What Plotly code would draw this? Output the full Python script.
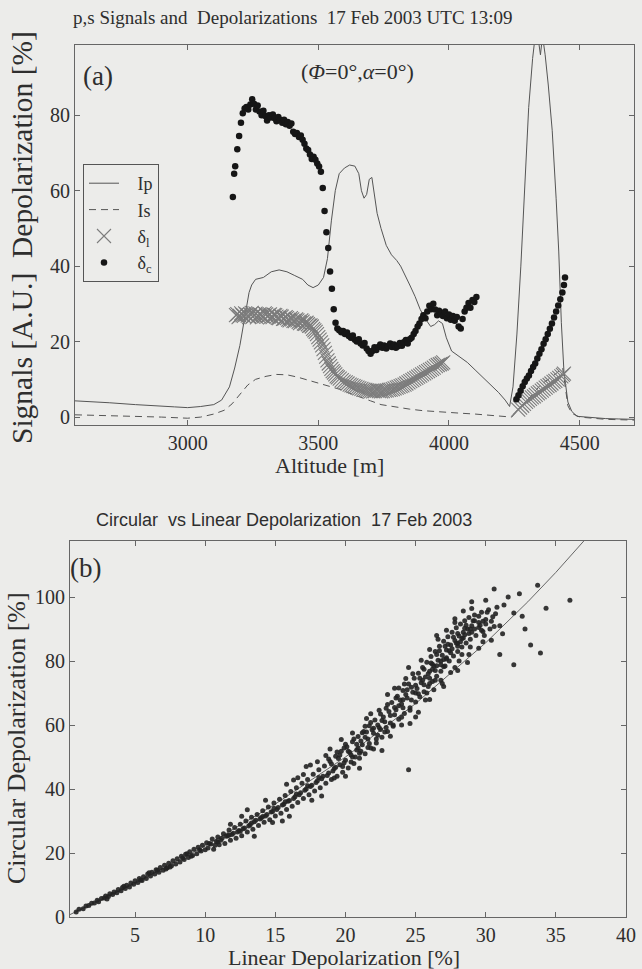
import plotly.graph_objects as go

# ---------------- Panel (a) data ----------------
ALT_IP = [2569, 2600, 2700, 2800, 2900, 2950, 3000, 3050, 3100, 3130, 3160, 3180, 3200, 3220,
          3235, 3245, 3260, 3290, 3320, 3350, 3380, 3410, 3440, 3460, 3480, 3500, 3520, 3535,
          3550, 3565, 3580, 3600, 3620, 3640, 3655, 3665, 3675, 3685, 3695, 3705, 3715, 3725,
          3740, 3760, 3780, 3800, 3815, 3830, 3850, 3870, 3890, 3910, 3930, 3945, 3960, 3975,
          3990, 4010, 4040, 4070, 4100, 4130, 4160, 4190, 4215, 4232, 4245, 4260, 4275, 4290,
          4305, 4320, 4330, 4340, 4350, 4358, 4368, 4380, 4395, 4410, 4420, 4430, 4440, 4455,
          4470, 4490, 4550, 4600, 4650, 4708]
IP = [4.3, 4.2, 3.8, 3.3, 3.0, 2.7, 2.5, 2.8, 3.3, 4.5, 8, 13, 19, 27,
      33, 35, 36.5, 37, 38.5, 39, 38.5, 37.5, 36.5, 35, 34.3, 35, 37, 42,
      52, 60, 64.5, 66, 66.8, 66.5, 64.5, 60, 58, 59, 63, 63.5, 59, 54,
      50, 45.5, 43, 41.5, 40, 38, 35, 32, 28.5, 26, 24, 24.5, 25.5, 24.8,
      21, 17.5, 16, 14.5, 12.5, 10.5, 8.5, 6.5, 4.5, 2.8, 8, 22, 40, 62,
      82, 95, 101, 101, 96, 101, 96, 88, 76, 58, 44, 25, 12, 4,
      1.5, 0.2, -0.2, -0.4, -0.5, -0.6]

ALT_IS = [2569, 2700, 2800, 2900, 3000, 3050, 3100, 3140, 3170, 3200, 3230, 3260, 3300, 3340,
          3380, 3420, 3460, 3500, 3540, 3580, 3620, 3660, 3700, 3740, 3800, 3850, 3900, 3950,
          4000, 4050, 4100, 4150, 4200, 4240, 4300, 4350, 4400, 4435, 4445, 4455, 4470, 4500,
          4600, 4708]
IS = [0.6, 0.4, 0.2, 0.0, -0.3, 0.0, 0.8, 1.8, 3.5, 6, 8.5, 10, 10.8, 11.3,
      11.2, 10.6, 9.8, 9.0, 8.2, 7.4, 6.3, 5.2, 4.3, 3.3, 2.6, 2.1, 1.7, 1.4,
      1.2, 1.0, 0.8, 0.5, 0.3, 0.0, 4.5, 8.5, 11, 13, 8, 3, 1, 0,
      -0.6, -0.8]

ALT_DL = [3185, 3195, 3205, 3215, 3225, 3235, 3245, 3255, 3265, 3275, 3285, 3295, 3305, 3315,
          3325, 3335, 3345, 3355, 3365, 3375, 3385, 3395, 3405, 3415, 3425, 3435, 3445, 3455,
          3465, 3475, 3485, 3495, 3505, 3515, 3525, 3535, 3545, 3555, 3565, 3575, 3590, 3605,
          3620, 3635, 3650, 3665, 3680, 3695, 3710, 3725, 3740, 3755, 3770, 3785, 3800, 3815,
          3830, 3845, 3860, 3875, 3890, 3905, 3920, 3935, 3950, 3965, 3978,
          4265, 4280, 4295, 4310, 4325, 4340, 4355, 4370, 4385, 4400, 4415, 4430, 4440,
          3190, 3200, 3210, 3220, 3230, 3240, 3250, 3260, 3270, 3280, 3290, 3300, 3310, 3320,
          3330, 3340, 3350, 3360, 3370, 3380, 3390, 3400, 3410, 3420, 3430, 3440, 3450, 3460,
          3470, 3480, 3490, 3500, 3510, 3520, 3530, 3540, 3550, 3560, 3570, 3582, 3597, 3612,
          3627, 3642, 3657, 3672, 3687, 3702, 3717, 3732, 3747, 3762, 3777, 3792, 3807, 3822,
          3837, 3852, 3867, 3882, 3897, 3912, 3927, 3942, 3957, 3972,
          4272, 4287, 4302, 4317, 4332, 4347, 4362, 4377, 4392, 4407, 4422, 4436]
DL = [27, 26.5, 27.5, 26.8, 27.2, 26.5, 27.6, 27, 26.4, 27.3, 26.8, 27.5, 26.7, 27.2,
      26.5, 27, 26.3, 26.8, 26, 26.5, 25.8, 26.2, 25.5, 25.9, 25.2, 25.6, 24.8, 25,
      24.2, 24, 23, 22, 20.5, 19, 17, 15, 13.5, 12.2, 11.3, 10.5, 9.8, 9.2,
      8.6, 8.2, 7.8, 7.5, 7.2, 7, 6.8, 7, 6.8, 7, 7.2, 7.4, 7.8, 8.2,
      8.6, 9.2, 9.8, 10.4, 11, 11.6, 12.2, 12.8, 13.5, 14, 14.5,
      2, 3, 4, 4.8, 5.5, 6.3, 7, 7.8, 8.5, 9.3, 10, 10.8, 11.5,
      27.3, 26.8, 27, 27.5, 26.9, 27.2, 26.6, 27.4, 26.9, 27.1, 26.6, 27.2, 27, 26.6,
      27.1, 26.6, 26.2, 26.6, 26.1, 26.2, 25.6, 25.9, 25.4, 25.6, 24.9, 25.3, 24.7, 24.6,
      24.3, 23.4, 22.6, 21.2, 19.8, 18.0, 16.0, 14.2, 12.8, 11.8, 10.8, 10.2, 9.4, 8.9,
      8.4, 8.0, 7.6, 7.3, 7.1, 6.9, 6.9, 6.9, 6.9, 7.1, 7.3, 7.6, 8.0, 8.4,
      8.9, 9.5, 10.1, 10.7, 11.3, 11.9, 12.5, 13.1, 13.8, 14.2,
      2.5, 3.5, 4.4, 5.2, 5.9, 6.6, 7.4, 8.2, 8.9, 9.6, 10.4, 11.2]

ALT_DC = [3173, 3178, 3182, 3190, 3197, 3204, 3211, 3218, 3225, 3232, 3240, 3247, 3254, 3261,
          3268, 3275, 3283, 3290, 3297, 3304, 3311, 3318, 3326, 3333, 3340, 3347, 3354, 3362,
          3369, 3376, 3383, 3390, 3397, 3404, 3411, 3418, 3426, 3433, 3440, 3447, 3454, 3461,
          3468, 3475, 3482, 3489, 3496, 3503, 3510, 3517, 3524, 3531, 3538, 3545, 3552, 3559,
          3566, 3573, 3580, 3588, 3595, 3602, 3610, 3617, 3625, 3632, 3640, 3647, 3655, 3662,
          3670, 3677, 3685, 3692, 3700, 3707, 3715, 3722, 3730, 3737, 3745, 3752, 3760, 3767,
          3775, 3782, 3790, 3797, 3805, 3812, 3820, 3827, 3835, 3842, 3850, 3857, 3865, 3872,
          3880, 3887, 3895, 3902, 3910, 3917, 3925, 3932, 3940, 3947, 3955, 3962, 3970, 3977,
          3985, 3992, 4000, 4007, 4015, 4022, 4030, 4037, 4045, 4052, 4060, 4067, 4075, 4082,
          4090, 4097, 4105,
          4258, 4266, 4274, 4282, 4290, 4298, 4306, 4314, 4322, 4330, 4338, 4346, 4354, 4362,
          4370, 4378, 4386, 4394, 4402, 4410, 4418, 4426, 4434, 4440, 4444]
DC = [58.3, 64.5, 66.5, 71, 74.5, 78, 80.5, 81.8, 82.2, 81.5, 82.8, 84.2, 83, 81.5,
      82.6, 81, 80, 81.2, 79.8, 78.6, 80, 79.4, 80.2, 79.2, 78.4, 79.5, 78.8, 78,
      78.8, 77.6, 78.2, 77.2, 77.8, 75.6, 75, 75.3, 74.2, 74.6, 73.5, 72.4, 71.2, 70.8,
      69.6, 68.4, 69, 68.2, 67.2, 66.4, 65, 60.7, 54.6, 49, 44.8, 38.6, 34, 28.6,
      25, 23.5, 23, 22.5, 22.8, 22, 22.4, 21.5, 21, 21.6, 20.5, 20, 20.6, 19.5,
      19, 19.6, 18.2, 17.5, 16.8, 17.5, 18.5, 17.8, 18.6, 19.2, 18.4, 19, 18.2, 18.8,
      19.5, 18.6, 19.2, 18.4, 18.8, 19.6, 18.9, 19.8, 20.4, 19.5, 20.6, 21, 22, 22.8,
      24, 24.8, 26, 27, 26.2, 28, 29.5, 28.6, 30, 28.5, 27, 28.2, 27.4, 26.8,
      28, 26.2, 27.2, 25.8, 26.8, 25.5, 26.5, 24, 23.5, 26, 28, 29, 30.2, 29,
      31, 30.5, 31.8,
      4.7, 5.8, 7.0, 8.2, 9.3, 10.2, 11.0, 12.2, 13.3, 14.2, 15.5, 16.8, 18.0, 19.4,
      20.6, 22.0, 23.4, 24.8, 26.4, 28.0, 29.6, 31.2, 33.0, 35.0, 37.0]

# ---------------- Panel (b) data ----------------
LIN_DEP = [
    0.8, 1.0, 1.3, 1.5, 1.7, 1.9, 2.1, 2.3, 2.4, 2.6, 2.8, 2.9, 3.1, 3.2, 3.4, 3.5, 3.7, 3.8, 4.0, 4.1,
    4.3, 4.4, 4.6, 4.7, 4.9, 5.0, 5.2, 5.3, 5.5, 5.6, 5.8, 5.9, 6.1, 6.2, 6.4, 6.5, 6.7, 6.8, 7.0, 7.1,
    7.3, 7.4, 7.6, 7.7, 7.9, 8.0, 8.2, 8.3, 8.5, 8.6, 8.8, 8.9, 9.1, 9.2, 9.4, 9.5, 9.7, 9.8, 10.0, 10.1,
    3.0, 4.2, 5.4, 6.6, 7.5, 8.4, 9.0, 9.6, 6.0, 7.2, 8.7,
    10.2, 10.4, 10.5, 10.6, 10.8, 10.9, 11.0, 11.2, 11.3, 11.4, 11.6, 11.7, 11.8, 12.0, 12.1, 12.2,
    12.4, 12.5, 12.6, 12.8, 12.9, 13.0, 13.2, 13.3, 13.4, 13.6, 13.7, 13.8, 14.0, 14.1, 14.2, 14.4,
    14.5, 14.6, 14.8, 14.9, 15.0, 15.2, 15.3, 15.4, 15.6, 15.7, 15.8, 16.0, 16.1, 16.2, 16.4, 16.5,
    16.6, 16.8, 16.9, 17.0, 17.2, 17.3, 17.4, 17.6, 17.7, 17.8, 18.0, 18.1, 18.2, 18.4,
    12.6, 14.3, 15.5, 16.3, 17.5, 18.3, 13.5, 17.0,
    18.5, 18.6, 18.8, 18.9, 19.0, 19.2, 19.3, 19.4, 19.6, 19.7, 19.8, 20.0, 20.1, 20.2, 20.4, 20.5,
    20.6, 20.8, 20.9, 21.0, 21.2, 21.3, 21.4, 21.6, 21.7, 21.8, 22.0, 22.1, 22.2, 22.4, 22.5, 22.6,
    22.8, 22.9, 23.0, 23.2, 23.3, 23.4, 23.6, 23.7, 23.8, 24.0, 24.1, 24.2, 24.4, 24.5, 24.6, 24.8,
    24.9, 25.0,
    19.5, 20.3, 21.1, 21.9, 22.7, 23.5, 24.3, 20.7, 22.3, 23.9, 21.5, 23.1, 24.7, 19.1, 20.9, 22.5, 24.1,
    18.9, 20.0, 21.5, 22.6, 23.5, 24.5, 24.0, 19.7, 25.0, 21.0,
    25.1, 25.2, 25.3, 25.4, 25.5, 25.6, 25.7, 25.8, 25.9, 26.0, 26.1, 26.2, 26.3, 26.4, 26.5, 26.6,
    26.7, 26.8, 26.9, 27.0, 27.1, 27.2, 27.3, 27.4, 27.5, 27.6, 27.7, 27.8, 27.9, 28.0, 28.1, 28.2,
    28.3, 28.4, 28.5, 28.6, 28.7, 28.8, 28.9, 29.0, 29.2, 29.3, 29.5, 29.7, 29.8, 30.0, 30.2, 30.3,
    30.5, 30.8, 31.0,
    25.5, 26.0, 26.5, 27.0, 27.5, 28.0, 28.5, 29.0, 29.5, 26.2, 27.2, 28.2, 25.8, 26.8, 27.8, 28.8, 29.8,
    25.2, 26.0, 27.0, 28.0, 28.7, 29.5, 30.4, 31.2, 30.0, 29.0, 31.3, 32.0, 32.4, 31.6, 33.7, 36.0,
    33.9, 32.0, 32.8, 33.2, 31.0, 24.5, 26.5, 27.8, 30.6, 34.3, 32.6,
    10.3, 10.7, 11.1, 11.5, 11.9, 12.3, 12.7, 13.1, 13.5, 13.9, 14.3, 14.7, 15.1, 15.5, 15.9, 16.3,
    16.7, 17.1, 17.5, 17.9, 18.3, 10.9, 11.7, 12.5, 13.3, 14.1, 14.9, 15.7, 16.5, 17.3, 18.1,
    15.8, 16.6, 17.2, 18.0, 16.0, 14.8, 13.0, 11.8, 18.6, 17.6,
    18.7, 19.0, 19.3, 19.6, 19.9, 20.2, 20.5, 20.8, 21.1, 21.4, 21.7, 22.0, 22.3, 22.6, 22.9, 23.2,
    23.5, 23.8, 24.1, 24.4, 24.7, 25.0,
    18.8, 19.4, 20.0, 20.6, 21.2, 21.8, 22.4, 23.0, 23.6, 24.2, 24.8,
    19.2, 19.8, 20.4, 21.0, 21.6, 22.2, 22.8, 23.4, 24.0, 24.6,
    20.5, 21.8, 23.0, 24.3, 22.0, 23.2, 24.6, 19.9, 21.4, 23.8,
    25.3, 25.6, 25.9, 26.2, 26.5, 26.8, 27.1, 27.4, 27.7, 28.0, 28.3, 28.6, 28.9, 29.2, 29.5, 29.8,
    30.1, 30.4, 30.7,
    25.2, 25.6, 26.0, 26.4, 26.8, 27.2, 27.6, 28.0, 28.4, 28.8, 29.2, 29.6, 30.0,
    25.4, 26.0, 26.6, 27.2, 27.8, 28.4, 29.0,
    25.0, 25.7, 26.3, 26.9, 27.5, 28.1, 28.9, 29.9, 30.6,
    26.1, 26.7, 27.3, 27.9, 28.5, 29.1, 29.7, 27.0, 28.3, 26.4]
CIRC_DEP = [
    1.6, 2.4, 2.6, 3.4, 3.6, 4.3, 4.4, 5.2, 4.8, 5.8, 5.9, 6.6, 6.4, 7.3, 7.0, 7.8, 7.6, 8.6, 8.2, 9.2,
    8.9, 9.9, 9.4, 10.6, 10.2, 11.3, 10.8, 12.0, 11.4, 12.6, 12.0, 13.4, 12.8, 14.0, 13.4, 14.8, 14.0, 15.5, 14.6, 16.2,
    15.4, 16.8, 16.0, 17.6, 16.6, 18.2, 17.2, 19.0, 18.0, 19.6, 18.6, 20.4, 19.2, 21.2, 19.8, 21.8, 20.6, 22.4, 21.0, 23.2,
    5.6, 9.6, 11.6, 14.6, 15.6, 18.4, 19.0, 21.0, 13.8, 15.0, 19.8,
    21.6, 22.8, 24.4, 21.2, 23.6, 25.0, 22.6, 24.6, 26.0, 23.0, 25.4, 27.2, 24.0, 26.2, 28.0, 24.6,
    27.0, 29.0, 25.4, 27.8, 30.0, 26.6, 28.8, 31.2, 27.4, 30.2, 32.0, 28.6, 31.0, 33.2, 29.6, 32.0,
    34.4, 30.4, 33.0, 35.6, 31.6, 34.2, 36.8, 32.4, 35.2, 38.0, 33.6, 36.4, 39.2, 34.6, 37.6, 40.4,
    35.8, 38.8, 41.8, 37.0, 40.0, 43.0, 38.2, 41.2, 44.6, 39.4, 42.6, 46.0, 40.4, 44.0,
    31.5, 36.5, 30.0, 42.8, 47.5, 37.8, 25.2, 44.5,
    47.2, 41.8, 45.0, 48.6, 43.0, 46.4, 50.2, 44.0, 47.6, 51.8, 45.2, 49.0, 53.2, 46.6, 50.6, 54.8,
    48.0, 52.2, 56.4, 49.6, 53.8, 58.0, 51.0, 55.6, 59.8, 52.8, 57.4, 61.6, 54.4, 59.2, 63.4, 56.2,
    61.0, 65.2, 58.0, 63.0, 67.0, 60.0, 64.8, 69.0, 61.8, 66.6, 70.8, 63.6, 68.4, 72.8, 65.4, 70.2,
    74.6, 67.2,
    49.5, 51.5, 55.0, 58.5, 62.5, 65.5, 69.5, 50.0, 60.0, 67.8, 57.8, 64.2, 71.8, 45.6, 52.8, 58.6, 67.9,
    52.5, 44.0, 62.0, 52.0, 71.5, 46.0, 60.0, 55.5, 62.5, 46.5,
    71.4, 76.2, 68.8, 73.2, 78.0, 70.4, 75.0, 79.6, 72.0, 76.8, 81.4, 73.6, 78.4, 83.0, 75.2, 80.2,
    84.6, 76.8, 81.8, 86.2, 78.4, 83.4, 87.6, 80.0, 85.0, 89.0, 81.6, 86.4, 90.4, 83.0, 87.8, 91.6,
    84.4, 89.0, 92.6, 85.6, 90.0, 93.6, 86.8, 91.0, 94.4, 88.0, 92.0, 95.2, 89.2, 93.0, 96.0, 90.0,
    93.8, 96.8, 91.0,
    74.0, 73.0, 78.5, 80.5, 82.6, 85.5, 88.2, 89.0, 90.5, 79.0, 81.0, 86.0, 70.0, 74.0, 78.0, 82.0, 86.0,
    64.0, 68.0, 72.0, 77.0, 79.5, 84.0, 86.5, 88.5, 99.0, 98.5, 97.5, 95.0, 101.0, 100.0, 103.7, 99.0,
    82.5, 78.8, 90.0, 85.0, 82.0, 78.0, 88.0, 92.0, 102.5, 96.5, 94.0,
    23.0, 22.4, 24.0, 25.2, 25.8, 26.6, 27.6, 28.4, 29.8, 30.6, 31.6, 32.8, 33.6, 35.0, 36.2, 37.0,
    38.2, 39.6, 40.8, 42.0, 43.2, 23.4, 25.6, 26.8, 29.4, 31.4, 34.0, 36.0, 38.4, 41.0, 43.6,
    41.5, 43.5, 47.0, 48.5, 31.5, 29.5, 33.5, 29.0, 50.5, 36.5,
    44.2, 47.8, 46.8, 50.6, 48.2, 51.8, 50.0, 54.0, 51.8, 56.2, 54.2, 59.0, 56.8, 61.4, 59.2, 60.6,
    63.2, 66.0, 65.4, 71.0, 67.8, 72.4,
    49.4, 51.6, 54.0, 55.6, 57.6, 60.8, 64.6, 66.4, 68.4, 72.8, 76.0,
    43.4, 47.0, 48.4, 51.2, 53.0, 55.6, 57.8, 59.6, 62.4, 64.6,
    57.5, 63.5, 69.5, 74.5, 52.5, 56.5, 60.5, 52.8, 59.6, 71.6,
    74.6, 77.4, 76.0, 77.4, 82.0, 80.0, 84.6, 83.2, 87.4, 88.6, 87.0, 91.2, 90.0, 92.6, 94.0, 92.4,
    95.2, 92.4, 94.8,
    69.8, 72.6, 74.6, 77.0, 78.8, 80.6, 83.8, 84.6, 87.2, 88.6, 90.0, 91.2, 91.6,
    80.2, 83.6, 86.8, 89.6, 93.2, 95.6, 96.4,
    70.0, 67.8, 71.0, 73.0, 76.4, 80.0, 84.4, 88.0, 90.8,
    79.4, 83.2, 85.2, 85.6, 90.2, 92.6, 89.6, 78.2, 82.0, 74.0]

CURVE_LIN = [0, 5, 10, 15, 20, 25, 30, 33, 35, 37.5]
CURVE_CIRC = [0, 10.5, 22.2, 35.3, 50, 66.7, 85.7, 98.5, 107.7, 120]

XT_A = [3000, 3500, 4000, 4500]
YT_A = [0, 20, 40, 60, 80]
XT_B = [5, 10, 15, 20, 25, 30, 35, 40]
YT_B = [0, 20, 40, 60, 80, 100]

W, H = 642, 969
BG = "#ececea"
INK = "#2e2e2e"
SERIF = "Liberation Serif, Times New Roman, serif"
SANS = "Liberation Sans, Arial, sans-serif"
PAD = "\u00a0\u00a0\u00a0"


def px(x):
    return x / W


def py(y):
    return 1 - y / H


fig = go.Figure()

fig.add_trace(go.Scatter(x=ALT_IP, y=IP, mode="lines", name=PAD + "Ip",
                         line=dict(color="#555555", width=1), xaxis="x", yaxis="y"))
fig.add_trace(go.Scatter(x=ALT_IS, y=IS, mode="lines", name=PAD + "Is",
                         line=dict(color="#555555", width=1, dash="7px,5px"), xaxis="x", yaxis="y"))
fig.add_trace(go.Scatter(x=ALT_DL, y=DL, mode="markers", name=PAD + "δ<sub>l</sub>",
                         marker=dict(symbol="x-thin", size=14, color="#7c7c7c",
                                     line=dict(width=1.1, color="#7c7c7c")),
                         xaxis="x", yaxis="y"))
fig.add_trace(go.Scatter(x=ALT_DC, y=DC, mode="markers", name=PAD + "δ<sub>c</sub>",
                         marker=dict(symbol="circle", size=6.5, color="#161616"),
                         xaxis="x", yaxis="y"))

fig.add_trace(go.Scatter(x=CURVE_LIN, y=CURVE_CIRC, mode="lines", showlegend=False,
                         line=dict(color="#666666", width=1), xaxis="x2", yaxis="y2"))
fig.add_trace(go.Scatter(x=LIN_DEP, y=CIRC_DEP, mode="markers", showlegend=False,
                         marker=dict(symbol="circle", size=5, color="#222222", opacity=0.9),
                         xaxis="x2", yaxis="y2"))

axis_common = dict(showgrid=False, zeroline=False, showline=True, linecolor="#666666",
                   linewidth=1, mirror="ticks", ticks="inside", ticklen=5, tickcolor="#666666",
                   tickfont=dict(family=SERIF, size=20, color=INK), automargin=False)

fig.update_layout(
    width=W, height=H,
    margin=dict(l=0, r=0, t=0, b=0),
    paper_bgcolor=BG, plot_bgcolor=BG,
    showlegend=True,
    legend=dict(x=px(83), y=py(164), xanchor="left", yanchor="top",
                bgcolor="rgba(0,0,0,0)", bordercolor="#555555", borderwidth=1,
                font=dict(family=SERIF, size=18, color=INK), tracegroupgap=0,
                itemwidth=30),
    xaxis=dict(domain=[px(75), px(634)], range=[2569, 4708], tickvals=XT_A,
               anchor="y", **axis_common),
    yaxis=dict(domain=[py(425), py(45)], range=[-2.1, 98.6], tickvals=YT_A,
               anchor="x", **axis_common),
    xaxis2=dict(domain=[px(70), px(626)], range=[0.36, 40], tickvals=XT_B,
                anchor="y2", **axis_common),
    yaxis2=dict(domain=[py(917), py(541)], range=[0, 117.5], tickvals=YT_B,
                anchor="x2", **axis_common),
)

ann = []
ann.append(dict(text="p,s Signals and\u00a0 Depolarizations\u00a0 17 Feb 2003 UTC 13:09",
                x=px(293), y=py(18), font=dict(family=SERIF, size=19, color=INK)))
ann.append(dict(text="(a)", x=px(98), y=py(76), font=dict(family=SERIF, size=27, color=INK)))
ann.append(dict(text="(<i>Φ</i>=0°,<i>α</i>=0°)", x=px(358), y=py(72),
                font=dict(family=SERIF, size=22, color=INK)))
ann.append(dict(text="Altitude [m]", x=px(329), y=py(465),
                font=dict(family=SERIF, size=22, color=INK)))
ann.append(dict(text="Signals [A.U.]\u00a0 Depolarization [%]", x=px(22), y=py(238), textangle=-90,
                font=dict(family=SERIF, size=29.5, color=INK)))
ann.append(dict(text="Circular\u00a0 vs Linear Depolarization\u00a0 17 Feb 2003",
                x=px(284), y=py(520), font=dict(family=SANS, size=18, color=INK)))
ann.append(dict(text="(b)", x=px(86), y=py(568), font=dict(family=SERIF, size=27, color=INK)))
ann.append(dict(text="Linear Depolarization [%]", x=px(344), y=py(957),
                font=dict(family=SERIF, size=22, color=INK)))
ann.append(dict(text="Circular Depolarization [%]", x=px(16), y=py(738), textangle=-90,
                font=dict(family=SERIF, size=26, color=INK)))
for a in ann:
    a.update(xref="paper", yref="paper", showarrow=False, xanchor="center", yanchor="middle")
fig.update_layout(annotations=ann)

fig.write_html("out.html")
